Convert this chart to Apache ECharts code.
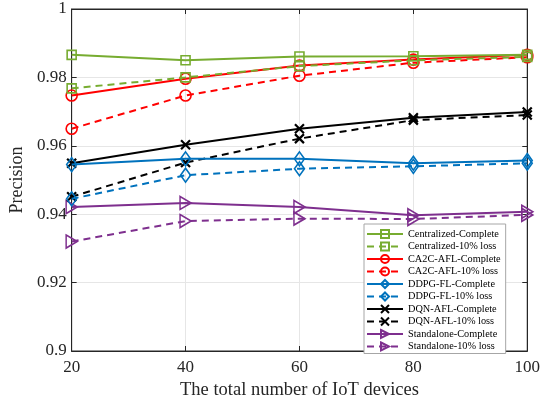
<!DOCTYPE html>
<html>
<head>
<meta charset="utf-8">
<script src="https://cdn.jsdelivr.net/npm/echarts@6/dist/echarts.min.js"></script>
<style>
  html, body { margin: 0; padding: 0; background: #fff; }
  #chart { width: 543px; height: 405px; }
</style>
</head>
<body>
<div id="chart"></div>
<script>
// Number of IoT devices on the x axis
const devices = [20, 40, 60, 80, 100];
const xTicks = [20, 40, 60, 80, 100];
const yTicks = [0.9, 0.92, 0.94, 0.96, 0.98, 1];

// Precision per scheme, complete data and 10% loss
const centralizedComplete = [0.9866, 0.9850, 0.9861, 0.9862, 0.9866];
const centralizedLoss     = [0.9768, 0.9800, 0.9833, 0.9850, 0.9860];
const ca2cComplete        = [0.9747, 0.9796, 0.9835, 0.9852, 0.9866];
const ca2cLoss            = [0.9650, 0.9747, 0.9805, 0.9843, 0.9859];
const ddpgComplete        = [0.9545, 0.9562, 0.9562, 0.9549, 0.9557];
const ddpgLoss            = [0.9445, 0.9514, 0.9533, 0.9540, 0.9549];
const dqnComplete         = [0.9549, 0.9603, 0.9650, 0.9682, 0.9699];
const dqnLoss             = [0.9451, 0.9551, 0.9621, 0.9675, 0.9690];
const standaloneComplete  = [0.9421, 0.9433, 0.9421, 0.9397, 0.9407];
const standaloneLoss      = [0.9320, 0.9380, 0.9387, 0.9386, 0.9398];

const names = [
  'Centralized-Complete', 'Centralized-10% loss',
  'CA2C-AFL-Complete', 'CA2C-AFL-10% loss',
  'DDPG-FL-Complete', 'DDPG-FL-10% loss',
  'DQN-AFL-Complete', 'DQN-AFL-10% loss',
  'Standalone-Complete', 'Standalone-10% loss'
];
const values = [
  centralizedComplete, centralizedLoss,
  ca2cComplete, ca2cLoss,
  ddpgComplete, ddpgLoss,
  dqnComplete, dqnLoss,
  standaloneComplete, standaloneLoss
];

const GREEN = '#77AC30', RED = '#FF0000', BLUE = '#0072BD', BLACK = '#000000', PURPLE = '#7E2F8E';
const colors = [GREEN, GREEN, RED, RED, BLUE, BLUE, BLACK, BLACK, PURPLE, PURPLE];

const SQUARE = 'rect';
const CIRCLE = 'circle';
const DIAMOND = 'diamond';
const CROSS = 'path://M0,0L10,10M10,0L0,10';
const TRI_RIGHT = 'path://M0,0L10,5L0,10Z';
const markers = [SQUARE, SQUARE, CIRCLE, CIRCLE, DIAMOND, DIAMOND, CROSS, CROSS, TRI_RIGHT, TRI_RIGHT];
const markerSizes = [[9, 9], [9, 9], [11, 11], [11, 11], [10, 14], [10, 14], [9, 9], [9, 9], [11, 13], [11, 13]];

const FONT = '"Liberation Serif", "Times New Roman", serif';
const fmt = v => String(Number(v.toFixed(2)));

const series = names.map((name, i) => {
  const dashed = i % 2 === 1;
  return {
    name,
    type: 'line',
    xAxisIndex: 0,
    yAxisIndex: 0,
    data: devices.map((d, k) => [d, values[i][k]]),
    symbol: markers[i],
    symbolSize: markerSizes[i],
    showAllSymbol: true,
    lineStyle: {
      color: colors[i],
      width: 2,
      type: dashed ? [7, 5] : 'solid'
    },
    itemStyle: {
      color: 'rgba(255,255,255,0)',
      borderColor: colors[i],
      borderWidth: markers[i] === CROSS ? 2.2 : 1.6
    },
    emphasis: { disabled: true },
    animation: false,
    z: 10 - Math.floor(i / 2)
  };
});

const chart = echarts.init(document.getElementById('chart'), null, { renderer: 'canvas' });
chart.setOption({
  backgroundColor: '#fff',
  animation: false,
  grid: {
    left: 62, right: 13, top: 9, bottom: 52,
    show: true, borderColor: '#262626', borderWidth: 1, backgroundColor: 'transparent'
  },
  legend: {
    orient: 'vertical',
    left: 364, top: 224,
    data: names,
    itemWidth: 36, itemHeight: 10, itemGap: 2.5,
    padding: [5, 5, 2, 2],
    backgroundColor: '#fff',
    borderColor: '#a6a6a6', borderWidth: 1,
    textStyle: { fontFamily: FONT, fontSize: 10.3, color: '#000' },
    selectedMode: false
  },
  xAxis: [{
    type: 'value',
    min: 20, max: 100, interval: 20,
    name: 'The total number of IoT devices',
    nameLocation: 'middle', nameGap: 30,
    nameTextStyle: { fontFamily: FONT, fontSize: 18.5, color: '#262626' },
    axisLine: { show: true, lineStyle: { color: '#262626', width: 1 } },
    axisTick: { show: true, inside: true, length: 5, lineStyle: { color: '#262626' } },
    axisLabel: {
      fontFamily: FONT, fontSize: 17, color: '#262626', margin: 8,
      customValues: xTicks, formatter: v => String(v)
    },
    splitLine: { show: true, lineStyle: { color: '#e6e6e6', width: 1 } }
  }, {
    type: 'value', position: 'top',
    min: 20, max: 100, interval: 20,
    axisLine: { show: true, lineStyle: { color: '#262626', width: 1 } },
    axisTick: { show: true, inside: true, length: 5, lineStyle: { color: '#262626' } },
    axisLabel: { show: false },
    splitLine: { show: false }
  }],
  yAxis: [{
    type: 'value',
    min: 0.9, max: 1, interval: 0.02,
    name: 'Precision',
    nameLocation: 'middle', nameGap: 40,
    nameTextStyle: { fontFamily: FONT, fontSize: 18, color: '#262626' },
    axisLine: { show: true, lineStyle: { color: '#262626', width: 1 } },
    axisTick: { show: true, inside: true, length: 5, lineStyle: { color: '#262626' } },
    axisLabel: {
      fontFamily: FONT, fontSize: 17, color: '#262626', margin: 5,
      customValues: yTicks, formatter: v => fmt(v)
    },
    splitLine: { show: true, lineStyle: { color: '#e6e6e6', width: 1 } }
  }, {
    type: 'value', position: 'right',
    min: 0.9, max: 1, interval: 0.02,
    axisLine: { show: true, lineStyle: { color: '#262626', width: 1 } },
    axisTick: { show: true, inside: true, length: 5, lineStyle: { color: '#262626' } },
    axisLabel: { show: false },
    splitLine: { show: false }
  }],
  series
});
</script>
</body>
</html>
